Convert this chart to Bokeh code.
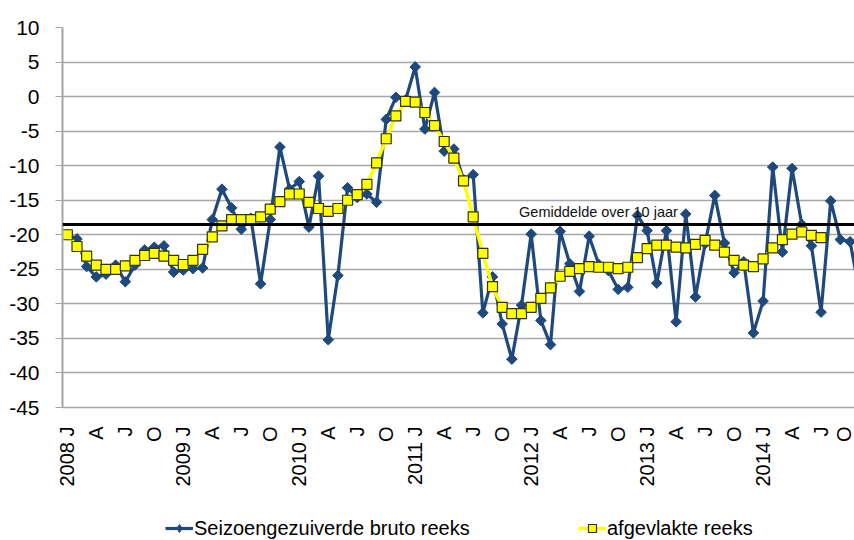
import numpy as np
from bokeh.plotting import figure
from bokeh.layouts import column
from bokeh.models import Range1d, FixedTicker, Span, Label, Legend, LegendItem, ColumnDataSource
from bokeh.embed import file_html
from bokeh.resources import INLINE

# ---- data (monthly, starting January 2008) ----
tick_labels = ["2008 J", "A", "J", "O", "2009 J", "A", "J", "O",
               "2010 J", "A", "J", "O", "2011 J", "A", "J", "O",
               "2012 J", "A", "J", "O", "2013 J", "A", "J", "O",
               "2014 J", "A", "J", "O"]
tick_months = [0, 3, 6, 9, 12, 15, 18, 21, 24, 27, 30, 33, 36, 39, 42, 45,
               48, 51, 54, 57, 60, 63, 66, 69, 72, 75, 78, 81]

bruto = [-20.0, -20.6, -24.6, -26.1, -25.7, -24.4, -26.8, -24.4, -22.2, -21.8, -21.6, -25.4,
         -25.1, -24.9, -24.8, -17.8, -13.4, -16.1, -19.2, -17.6, -27.1, -17.8, -7.3, -13.4,
         -12.3, -18.9, -11.5, -35.2, -25.9, -13.2, -14.6, -14.1, -15.3, -3.3, -0.1, -0.5,
         4.3, -4.7, 0.6, -7.9, -7.6, -12.0, -11.3, -31.3, -26.1, -32.9, -38.0, -30.2,
         -19.9, -32.4, -35.9, -19.5, -24.2, -28.2, -20.2, -24.3, -25.2, -27.9, -27.6, -17.2,
         -19.4, -27.0, -19.4, -32.6, -17.0, -29.0, -21.3, -14.3, -21.2, -25.5, -23.9, -34.2,
         -29.6, -10.2, -22.5, -10.4, -18.5, -21.6, -31.2, -15.1, -20.7, -21.0, -28.5]

afgevlakt = [-20.0, -21.7, -23.1, -24.4, -25.0, -25.0, -24.5, -23.7, -23.0, -22.7, -23.1, -23.7,
             -24.3, -23.7, -22.1, -20.3, -18.7, -17.8, -17.8, -17.8, -17.4, -16.3, -15.2, -14.1,
             -14.1, -15.3, -16.2, -16.6, -16.2, -15.0, -14.2, -12.7, -9.6, -6.1, -2.8, -0.7,
             -0.8, -2.3, -4.2, -6.5, -8.9, -12.2, -17.4, -22.7, -27.5, -30.5, -31.4, -31.4,
             -30.5, -29.2, -27.7, -26.0, -25.3, -24.9, -24.6, -24.7, -24.7, -24.9, -24.7, -23.3,
             -22.0, -21.5, -21.5, -21.8, -21.9, -21.4, -20.8, -21.5, -22.5, -23.7, -24.4, -24.6,
             -23.5, -21.9, -20.7, -19.9, -19.6, -20.1, -20.4]

gemiddelde = -18.5
gemiddelde_label = "Gemiddelde over 10 jaar"
naam_bruto = "Seizoengezuiverde bruto reeks"
naam_afgevlakt = "afgevlakte reeks"
y_ticks = [10, 5, 0, -5, -10, -15, -20, -25, -30, -35, -40, -45]

# ---- styling ----
BLUE = "#1F497D"
YELLOW = "#FFFF00"
GRID = "#A6A6A6"
FONT = "Liberation Sans"

src_b = ColumnDataSource(dict(x=list(range(len(bruto))), y=bruto))
src_a = ColumnDataSource(dict(x=list(range(len(afgevlakt))), y=afgevlakt))

p = figure(width=854, height=506, output_backend="svg", toolbar_location=None,
           x_range=Range1d(-0.5, 81.46), y_range=Range1d(-45, 10),
           min_border_left=62, min_border_right=0, min_border_top=27, min_border_bottom=99)
p.outline_line_color = None

# grid
p.xgrid.grid_line_color = None
p.ygrid.ticker = FixedTicker(ticks=y_ticks)
p.ygrid.grid_line_color = GRID
p.ygrid.grid_line_width = 1.5

# y axis
p.yaxis.ticker = FixedTicker(ticks=y_ticks)
p.yaxis.major_label_overrides = {v: str(v) for v in y_ticks}
p.yaxis.axis_line_color = GRID
p.yaxis.axis_line_width = 2
p.yaxis.major_tick_line_color = GRID
p.yaxis.major_tick_out = 7
p.yaxis.major_tick_in = 0
p.yaxis.minor_tick_line_color = None
p.yaxis.major_label_standoff = 16
p.yaxis.major_label_text_font = FONT
p.yaxis.major_label_text_font_size = "21px"
p.yaxis.major_label_text_color = "#000000"

# x axis
p.xaxis.ticker = FixedTicker(ticks=tick_months)
p.xaxis.major_label_overrides = {m: l for m, l in zip(tick_months, tick_labels)}
p.xaxis.major_label_orientation = np.pi / 2
p.xaxis.axis_line_color = GRID
p.xaxis.axis_line_width = 1.5
p.xaxis.major_tick_line_color = None
p.xaxis.minor_tick_line_color = None
p.xaxis.major_label_standoff = 13
p.xaxis.major_label_text_font = FONT
p.xaxis.major_label_text_font_size = "20px"
p.xaxis.major_label_text_color = "#000000"

# mean line
p.add_layout(Span(location=gemiddelde, dimension="width", line_color="black", line_width=3))
p.add_layout(Label(x=46.75, y=-16.7, text=gemiddelde_label, text_font=FONT,
                   text_font_size="14.5px", text_color="#111111", text_baseline="alphabetic"))

# series
p.line("x", "y", source=src_b, line_color=BLUE, line_width=3.2)
p.scatter("x", "y", source=src_b, marker="square", angle=np.pi / 4, size=7.5,
          fill_color=BLUE, line_color=BLUE)
p.line("x", "y", source=src_a, line_color=YELLOW, line_width=3.5)
p.scatter("x", "y", source=src_a, marker="square", size=10,
          fill_color=YELLOW, line_color="#333300", line_width=1.2)

# ---- legend strip below the chart (series drawn off-range, only the legend shows) ----
q = figure(width=854, height=34, output_backend="svg", toolbar_location=None,
           x_range=Range1d(1000, 1001), y_range=Range1d(1000, 1001),
           x_axis_location=None, y_axis_location=None,
           min_border_left=0, min_border_right=0, min_border_top=0, min_border_bottom=0)
q.grid.visible = False
q.outline_line_color = None
lb = q.line("x", "y", source=src_b, line_color=BLUE, line_width=3.2)
mb = q.scatter("x", "y", source=src_b, marker="diamond", size=12,
               fill_color=BLUE, line_color=BLUE)
la = q.line("x", "y", source=src_a, line_color=YELLOW, line_width=3.5)
ma = q.scatter("x", "y", source=src_a, marker="square", size=10,
               fill_color=YELLOW, line_color="#333300", line_width=1.2)

def mk_legend(label, rends, x):
    return Legend(items=[LegendItem(label=label, renderers=rends)], location=(x, 0),
                  orientation="horizontal", background_fill_alpha=0, border_line_color=None,
                  padding=0, margin=0, glyph_width=28, glyph_height=20, label_standoff=1,
                  label_height=24, label_text_font=FONT, label_text_font_size="20px",
                  label_text_color="#000000")

# frames in the column are aligned with the chart frame (left edge at 62px)
q.add_layout(mk_legend(naam_bruto, [lb, mb], 103))
q.add_layout(mk_legend(naam_afgevlakt, [la, ma], 516))

layout = column(p, q, spacing=0)
open("out.html", "w").write(file_html(layout, INLINE))
